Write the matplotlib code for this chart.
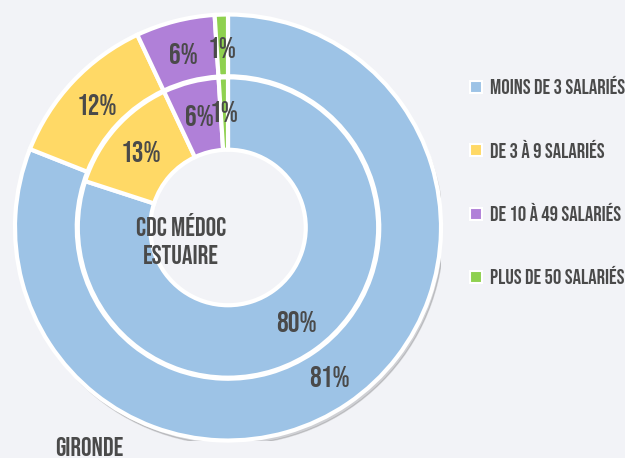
import matplotlib

matplotlib.use("Agg")

import matplotlib.pyplot as plt
from matplotlib.lines import Line2D

categories = ["Moins de 3 salariés", "De 3 à 9 salariés", "De 10 à 49 salariés", "Plus de 50 salariés"]
gironde = [81, 12, 6, 1]
medoc = [80, 13, 6, 1]
colors = ["#9dc3e6", "#ffd966", "#b080d8", "#8fd14f"]

BG = "#f2f3f7"
TXT = "#4a4a4a"
FONT = ["Bebas Neue", "DejaVu Sans"]
plt.rcParams["font.family"] = FONT

W, H = 625, 458
fig = plt.figure(figsize=(W / 100, H / 100), dpi=100, facecolor=BG)

# pie axes placed in pixel units: centre (228, 227.5), outer radius 213
cx, cy, R = 228, 227.5, 213
ax = fig.add_axes([(cx - R) / W, (H - cy - R) / H, 2 * R / W, 2 * R / H])

# faint drop shadow under the outer ring, hole kept in background colour
ax.add_patch(plt.Circle((0.012, -0.02), 1.0, color="#000000", alpha=0.14, zorder=0))
ax.add_patch(plt.Circle((0, 0), 0.37, color=BG, zorder=0.5))

wedge_kw = dict(edgecolor="white", linewidth=3)
ax.pie(
    gironde, radius=1.0, colors=colors, startangle=90, counterclock=False,
    wedgeprops=dict(width=0.29, **wedge_kw), autopct="%.0f%%", pctdistance=0.845,
    textprops=dict(color=TXT, fontsize=21), frame=True,
)
ax.pie(
    medoc, radius=0.705, colors=colors, startangle=90, counterclock=False,
    wedgeprops=dict(width=0.34, **wedge_kw), autopct="%.0f%%", pctdistance=0.77,
    textprops=dict(color=TXT, fontsize=21), frame=True,
)
ax.set_xlim(-1, 1)
ax.set_ylim(-1, 1)
ax.set_aspect("equal")
ax.axis("off")

fig.text(181 / W, 1 - 224 / H, "CDC MÉDOC", ha="center", va="center",
         fontsize=19, color=TXT)
fig.text(181 / W, 1 - 254 / H, "ESTUAIRE", ha="center", va="center",
         fontsize=19, color=TXT)
fig.text(55 / W, 1 - 446 / H, "GIRONDE", ha="left", va="center",
         fontsize=19, color=TXT)

handles = [
    Line2D([], [], marker="s", linestyle="none", markersize=8, markerfacecolor=c,
           markeredgecolor="white", markeredgewidth=1.5)
    for c in colors
]
fig.legend(
    handles, [c.upper() for c in categories], loc="upper left",
    bbox_to_anchor=(459 / W, 1 - 68 / H), frameon=False, labelspacing=2.17,
    handlelength=0.8, handletextpad=0.3, labelcolor=TXT, borderaxespad=0,
    prop=dict(family=FONT, size=15),
)

fig.savefig("out.png", dpi=100, facecolor=BG)
